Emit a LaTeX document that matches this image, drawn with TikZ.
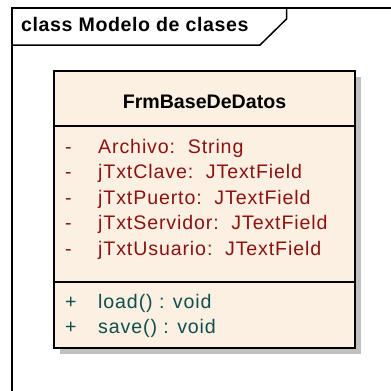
\documentclass[tikz,border=0pt]{standalone}
\usepackage{fontspec}
\setmainfont{Liberation Sans}
\newfontfamily\spacedfont[LetterSpace=4.5]{Liberation Sans}
\newfontfamily\titlefont[LetterSpace=3]{Liberation Sans}
\definecolor{boxfill}{RGB}{251,240,225}
\definecolor{attrred}{RGB}{140,18,18}
\definecolor{methteal}{RGB}{16,78,78}
\definecolor{shadowgray}{RGB}{192,192,192}
\tikzset{
  txt/.style={inner sep=0pt, anchor=base west, font=\fontsize{19.6}{23}\selectfont\spacedfont},
  attr/.style={txt, text=attrred},
  meth/.style={txt, text=methteal},
  boldtxt/.style={inner sep=0pt, anchor=base west, font=\fontsize{19.6}{23}\selectfont\bfseries},
  titletxt/.style={inner sep=0pt, anchor=base west, font=\fontsize{19.6}{23}\selectfont\titlefont\bfseries},
  frameline/.style={line width=1.5pt, black},
  boxline/.style={line width=2pt, black}
}
\begin{document}
\begin{tikzpicture}[x=1pt,y=-1pt]
\useasboundingbox (0,0) rectangle (391,391);
\fill[white] (0,0) rectangle (391,391);
% frame
\draw[frameline] (12,395) -- (12,8) -- (395,8);
\draw[frameline] (12,45) -- (260,45) -- (286.5,19) -- (286.5,8);
\node[titletxt] (title) at (21,31.5) {class Modelo de clases};
% class box
\fill[shadowgray] (60,77) rectangle (361,354);
\fill[boxfill] (54,71) rectangle (355,348);
\draw[boxline] (54,71) rectangle (355,348);
\draw[boxline] (54,125.5) -- (355,125.5);
\draw[boxline] (54,282) -- (355,282);
\node[boldtxt, anchor=base] (name) at (204.5,108) {FrmBaseDeDatos};
\foreach \i/\t in {0/{Archivo:\ \ String},1/{jTxtClave:\ \ JTextField},2/{jTxtPuerto:\ \ JTextField},3/{jTxtServidor:\ \ JTextField},4/{jTxtUsuario:\ \ JTextField}}{
  \node[attr] (av\i) at (65,153+25.5*\i) {-};
  \node[attr] (a\i) at (98,153+25.5*\i) {\t};
}
\node[meth] (mv0) at (65,308) {+};
\node[meth] (m0) at (98,308) {load() : void};
\node[meth] (mv1) at (65,333) {+};
\node[meth] (m1) at (98,333) {save() : void};
\end{tikzpicture}
\end{document}
